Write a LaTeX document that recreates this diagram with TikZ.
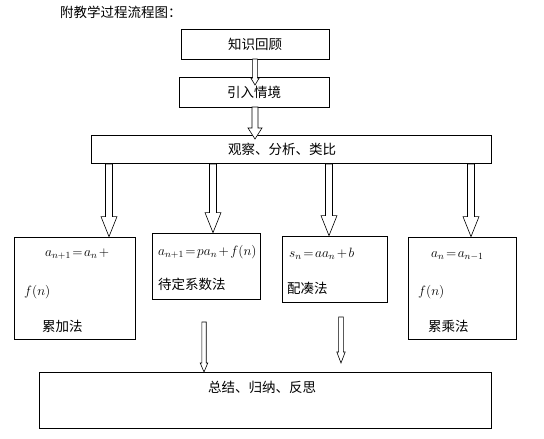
\RequirePackage{fix-cm}
\documentclass[tikz,border=0pt]{standalone}
\usepackage{fontspec}
\setmainfont{Noto Sans CJK SC}
\usepackage{tikz}
\usetikzlibrary{positioning,calc}
\tikzset{
  box/.style={draw,line width=0.8pt,inner sep=0pt,font=\fontsize{13.5}{16}\selectfont},
  txt/.style={inner sep=0pt,anchor=west,font=\fontsize{13.5}{16}\selectfont},
  fml/.style={inner sep=0pt,anchor=west,font=\fontsize{13.5}{16}\selectfont},
  blkarr/.style={draw=black,fill=white,line width=0.6pt,line join=miter},
}
% tight relation / binary signs as in the Word equations
\newcommand\teq{\mkern2mu{=}\mkern2mu}
\newcommand\tplus{\mkern2mu{+}\mkern2mu}
% hollow block arrow: shaft half width, head half width, head length, from, tip
\newcommand\blkarrow[5]{%
  \draw[blkarr] let \p1=(#4), \p2=(#5) in
    (\x1-#1pt,\y1) -- (\x1-#1pt,\y2+#3pt) -- (\x1-#2pt,\y2+#3pt) -- (\x1,\y2)
    -- (\x1+#2pt,\y2+#3pt) -- (\x1+#1pt,\y2+#3pt) -- (\x1+#1pt,\y1) -- cycle;}

\begin{document}
\begin{tikzpicture}[x=1pt,y=-1pt]
  \useasboundingbox (0,0) rectangle (544,439);
  \node[txt] (title) at (60,12) {附教学过程流程图：};
  % --- top chain ---
  \node[box,minimum width=148pt,minimum height=30pt] (recall) at (255,44) {知识回顾};
  \node[box,minimum width=150pt,minimum height=30pt,below=18pt of recall,xshift=-1pt] (intro) {引入情境};
  \node[box,minimum width=400pt,minimum height=28pt,below=27pt of intro,xshift=37pt] (observe)
    {\hspace*{-18pt}观察、分析、类比};
  % --- four methods ---
  \node[box,minimum width=121pt,minimum height=102pt] (leijia) at (74.5,288) {};
  \node[box,minimum width=108pt,minimum height=66pt] (daiding) at (206,266) {};
  \node[box,minimum width=105pt,minimum height=66pt] (peicou) at (334.5,269) {};
  \node[box,minimum width=108pt,minimum height=102pt] (leicheng) at (462,288) {};
  \node[fml] (leijiaF) at (45,254) {$a_{n+1}\teq a_n\tplus$};
  \node[fml] (leijiaG) at (24,292) {$f(n)$};
  \node[txt] (leijiaT) at (42,326) {累加法};
  \node[fml] (daidingF) at (158,252) {$a_{n+1}\teq pa_n\tplus f(n)$};
  \node[txt] (daidingT) at (158,284) {待定系数法};
  \node[fml] (peicouF) at (289,254) {$s_n\teq aa_n\tplus b$};
  \node[txt] (peicouT) at (287,288) {配凑法};
  \node[fml] (leichengF) at (431,256) {$a_n\teq a_{n-1}$};
  \node[fml] (leichengG) at (418,292) {$f(n)$};
  \node[txt] (leichengT) at (428,326) {累乘法};
  % --- summary ---
  \node[box,minimum width=452pt,minimum height=56pt] (summary) at (265,400) {};
  \node[box,draw=none] (summaryT) at ($(summary.north)+(-3,16)$) {总结、归纳、反思};
  % --- block arrows ---
  \coordinate (s1) at (255,59);   \coordinate (t1) at (255,85);
  \coordinate (s2) at (255,107);  \coordinate (t2) at (255,139);
  \blkarrow{2.4}{4.2}{7}{s1}{t1}
  \blkarrow{3}{7}{11}{s2}{t2}
  \foreach \x/\tip in {109/leijia,213/daiding,329/peicou,471/leicheng}{
    \coordinate (a\tip) at (\x,164);
    \coordinate (b\tip) at (\tip.north -| a\tip);
    \blkarrow{3.5}{8}{20}{a\tip}{b\tip}
  }
  \coordinate (s7) at (204,322);  \coordinate (t7) at (204,372);
  \coordinate (s8) at (341,317);  \coordinate (t8) at (341,363);
  \blkarrow{2.2}{3.8}{9}{s7}{t7}
  \blkarrow{2.4}{4.2}{11}{s8}{t8}
\end{tikzpicture}
\end{document}
